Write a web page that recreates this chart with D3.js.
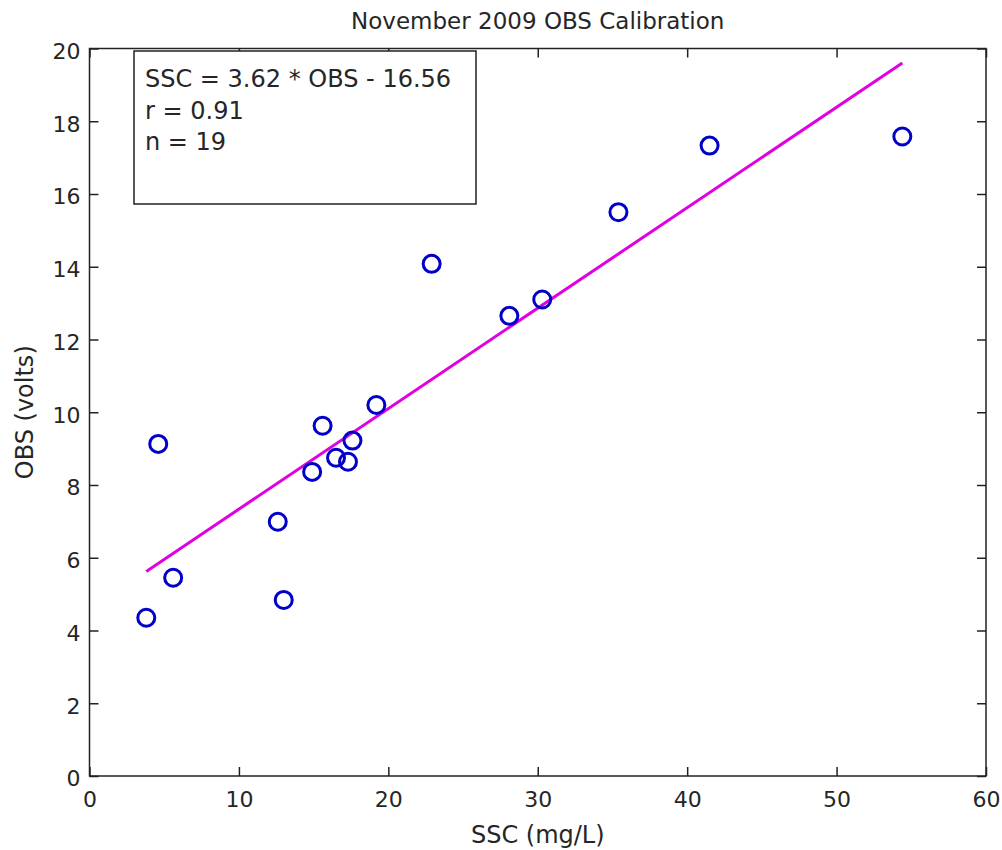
<!DOCTYPE html>
<html>
<head>
<meta charset="utf-8">
<script src="https://cdn.jsdelivr.net/npm/d3@7"></script>
<style>
html,body{margin:0;padding:0;background:#fff;}
svg text{font-family:"DejaVu Sans",sans-serif;fill:#262626;}
</style>
</head>
<body>
<svg id="chart" width="1002" height="850"></svg>
<script>
const ssc = [3.8, 5.6, 4.6, 12.6, 13.0, 14.9, 15.6, 16.5, 17.3, 17.6, 19.2, 22.9, 28.1, 30.3, 35.4, 41.5, 54.4];
const obs = [4.35, 5.45, 9.13, 6.99, 4.84, 8.36, 9.63, 8.75, 8.64, 9.22, 10.2, 14.08, 12.65, 13.1, 15.5, 17.33, 17.58];
const fitSlope = 3.62, fitIntercept = -16.56;
const xTicks = [0, 10, 20, 30, 40, 50, 60];
const yTicks = [0, 2, 4, 6, 8, 10, 12, 14, 16, 18, 20];
const titleText = "November 2009 OBS Calibration";
const xLabel = "SSC (mg/L)";
const yLabel = "OBS (volts)";
const statLines = ["SSC = 3.62 * OBS - 16.56", "r = 0.91", "n = 19"];

const svg = d3.select("#chart");
const L = 89.5, R = 986, T = 48.5, B = 776;
const x = d3.scaleLinear().domain([0, 60]).range([L, R]);
const y = d3.scaleLinear().domain([0, 20]).range([B, T]);
const axisColor = "#222";

// frame
svg.append("rect").attr("x", L).attr("y", T).attr("width", R - L).attr("height", B - T)
  .attr("fill", "none").attr("stroke", axisColor).attr("stroke-width", 1.5);

const tk = 9;
function styleAxis(g) {
  g.select(".domain").remove();
  g.selectAll(".tick line").attr("stroke", axisColor).attr("stroke-width", 1.5);
  g.selectAll("text").style("font-size", "22px").attr("fill", "#262626");
}
// bottom
svg.append("g").attr("transform", `translate(0,${B})`)
  .call(d3.axisBottom(x).tickValues(xTicks).tickSize(-tk).tickFormat(d3.format("d")))
  .call(styleAxis).call(g => g.selectAll("text").attr("dy", null).attr("y", 31));
// top
svg.append("g").attr("transform", `translate(0,${T})`)
  .call(d3.axisTop(x).tickValues(xTicks).tickSize(-tk).tickFormat(""))
  .call(styleAxis);
// left
svg.append("g").attr("transform", `translate(${L},0)`)
  .call(d3.axisLeft(y).tickValues(yTicks).tickSize(-tk).tickPadding(9).tickFormat(d3.format("d")))
  .call(styleAxis).call(g => g.selectAll("text").attr("dy", "0.45em"));
// right
svg.append("g").attr("transform", `translate(${R},0)`)
  .call(d3.axisRight(y).tickValues(yTicks).tickSize(-tk).tickFormat(""))
  .call(styleAxis);

// fit line: OBS = (SSC - b)/m
const xmin = d3.min(ssc), xmax = d3.max(ssc);
const fitPts = [xmin, xmax].map(s => [s, (s - fitIntercept) / fitSlope]);
svg.append("path").datum(fitPts)
  .attr("d", d3.line().x(d => x(d[0])).y(d => y(d[1])))
  .attr("stroke", "#e000e0").attr("stroke-width", 3).attr("fill", "none");

// points
svg.append("g").selectAll("circle").data(ssc.map((s, i) => [s, obs[i]])).join("circle")
  .attr("cx", d => x(d[0])).attr("cy", d => y(d[1])).attr("r", 8.5)
  .attr("fill", "none").attr("stroke", "#0000c8").attr("stroke-width", 3);

// stats box
svg.append("rect").attr("x", 134).attr("y", 51).attr("width", 342).attr("height", 153)
  .attr("fill", "#fff").attr("stroke", axisColor).attr("stroke-width", 1.5);
svg.append("g").selectAll("text").data(statLines).join("text")
  .attr("x", 145).attr("y", (d, i) => 87 + i * 31.5)
  .style("font-size", "24px").text(d => d);

// title & labels
svg.append("text").attr("x", (L + R) / 2).attr("y", 29).attr("text-anchor", "middle")
  .style("font-size", "23px").text(titleText);
svg.append("text").attr("x", (L + R) / 2).attr("y", 843).attr("text-anchor", "middle")
  .style("font-size", "24px").text(xLabel);
svg.append("text").attr("transform", `translate(33,${(T + B) / 2}) rotate(-90)`).attr("text-anchor", "middle")
  .style("font-size", "24px").text(yLabel);
</script>
</body>
</html>
